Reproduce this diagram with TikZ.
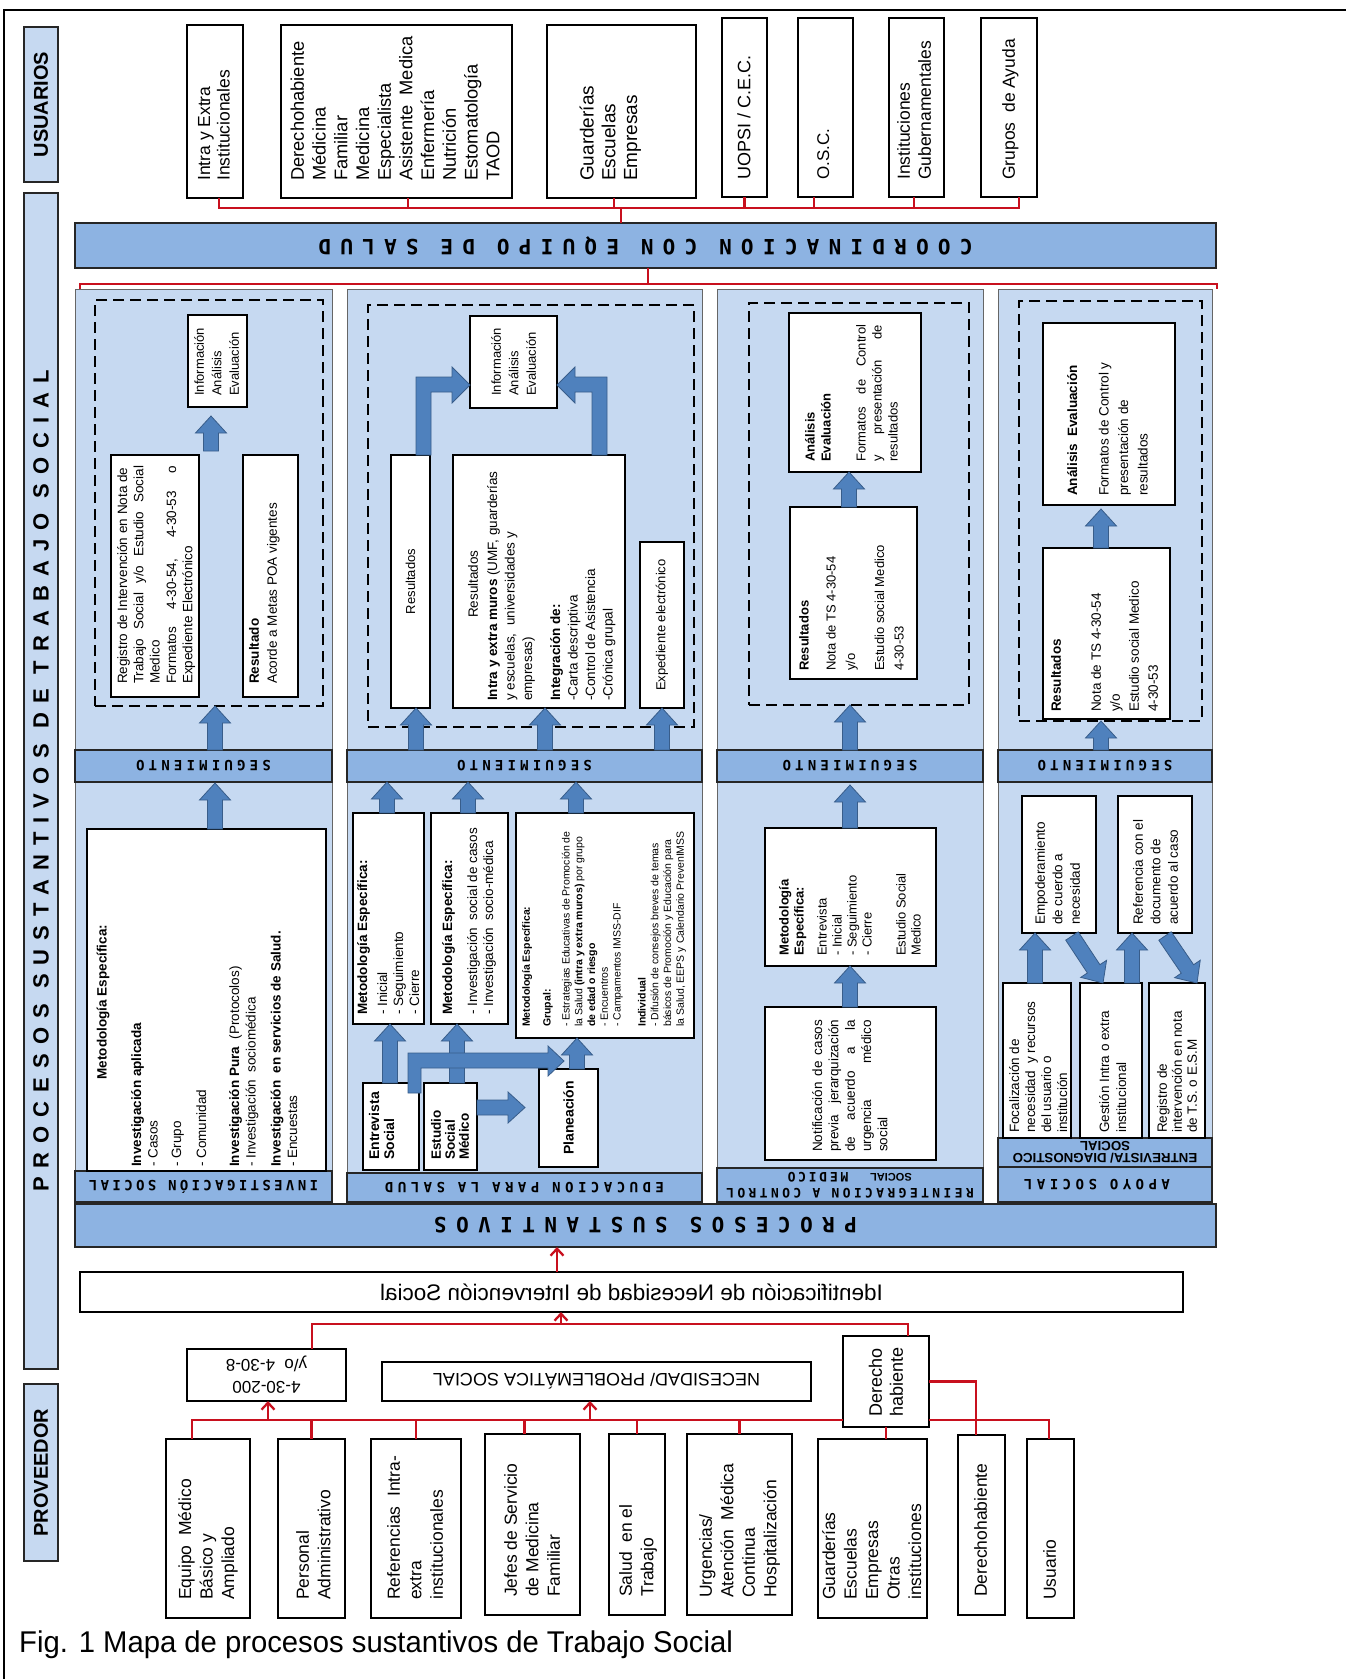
\documentclass[tikz,border=0pt]{standalone}
\usepackage{fontspec}
\setmainfont{Liberation Sans}
\newfontfamily\bandfont{DejaVu Sans Mono}
\usetikzlibrary{calc,arrows.meta}

\definecolor{panel}{RGB}{198,217,241}
\definecolor{band}{RGB}{141,179,226}
\definecolor{arrowfill}{RGB}{79,129,189}
\definecolor{arrowline}{RGB}{56,93,138}
\definecolor{linkred}{RGB}{200,16,30}

\newcommand\fz[2]{\fontsize{#1}{#2}\selectfont}
\newcommand\jl[2]{\makebox[#1pt][s]{#2}}
\newcommand\bandtxt[3]{{\fontsize{#1}{#1}\selectfont\bandfont\bfseries\addfontfeature{LetterSpace=#2}#3}}

\newcounter{tn}
% box from (x0,y0) to (x1,y1), y downwards
\newcommand\bx[6][wbox]{\node[#1, minimum width={#5-#3}, minimum height={#6-#4}] (#2) at ({(#3+#5)/2},{(#4+#6)/2}) {};}
% text read from bottom to top, anchored at its lower left corner
\newcommand\vt[4][]{\stepcounter{tn}\node[vtext,#1] (txt\arabic{tn}) at (#2,#3) {#4};}
% centred text read from bottom to top
\newcommand\ct[3][]{\stepcounter{tn}\node[ctext,#1] (txt\arabic{tn}) at (#2) {#3};}
% upside-down text
\newcommand\ft[3][]{\stepcounter{tn}\node[fliptext,#1] (txt\arabic{tn}) at (#2) {#3};}

% vertical block arrow at abscissa #1 from anchor #2 up to anchor #3 (gaps #4, #5)
\newcommand\vblock[5]{\path[barrow] let \p1=(#2), \p2=(#3) in
  (#1pt-7.5pt,\y1+#4pt) -- (#1pt-7.5pt,\y2-#5pt-17pt) -- (#1pt-15.5pt,\y2-#5pt-17pt) -- (#1pt,\y2-#5pt)
  -- (#1pt+15.5pt,\y2-#5pt-17pt) -- (#1pt+7.5pt,\y2-#5pt-17pt) -- (#1pt+7.5pt,\y1+#4pt) -- cycle;}
% block arrow in any direction from #1 to tip #2
\newcommand\blockarrow[2]{\path[barrow] let \p1=#1, \p2=#2,
  \n1={veclen(\x2-\x1,\y2-\y1)}, \n2={atan2(\y2-\y1,\x2-\x1)} in
  ($(\p1)+({\n2+90}:7.5pt)$) -- ($(\p1)+({\n2}:{\n1-17pt})+({\n2+90}:7.5pt)$)
  -- ($(\p1)+({\n2}:{\n1-17pt})+({\n2+90}:15.5pt)$) -- (\p2)
  -- ($(\p1)+({\n2}:{\n1-17pt})+({\n2-90}:15.5pt)$) -- ($(\p1)+({\n2}:{\n1-17pt})+({\n2-90}:7.5pt)$)
  -- ($(\p1)+({\n2-90}:7.5pt)$) -- cycle;}

\begin{document}
\begin{tikzpicture}[x=1pt,y=-1pt,
  wbox/.style={draw=black, fill=white, line width=1.3pt, inner sep=0pt, outer sep=0pt},
  panelbox/.style={draw=black!60, fill=panel, line width=1pt, inner sep=0pt, outer sep=0pt},
  bandbox/.style={draw=black!85, fill=band, line width=1.3pt, inner sep=0pt, outer sep=0pt},
  sidebar/.style={draw=black!85, fill=panel, line width=1.8pt, inner sep=0pt, outer sep=0pt},
  dashbox/.style={draw=black, dash pattern=on 11pt off 6pt, line width=2pt, inner sep=0pt, outer sep=0pt},
  vtext/.style={rotate=90, anchor=north west, align=left, inner sep=0pt},
  ctext/.style={rotate=90, align=center, inner sep=0pt},
  fliptext/.style={rotate=180, align=center, inner sep=0pt},
  barrow/.style={fill=arrowfill, draw=arrowline, line width=0.8pt, line join=miter},
  redline/.style={draw=linkred, line width=2.3pt},
  redarrow/.style={redline, -{Straight Barb[length=7pt,width=13pt]}},
]
\useasboundingbox (0,0) rectangle (1345,1679);
\fill[white] (0,0) rectangle (1345,1679);
\draw[line width=1.5pt] (4,1700) -- (4,10) -- (1360,10);

% ---------- side bars ----------
\bx[sidebar]{usu}{24}{27}{58}{182}
\bx[sidebar]{pst}{24}{193}{58}{1369}
\bx[sidebar]{prov}{24}{1384}{58}{1561}
\ct[font=\fz{20}{20}\bfseries]{usu.center}{USUARIOS}
\ct[font=\fz{22}{22}\bfseries\addfontfeature{LetterSpace=41}]{pst.center}{PROCESOS SUSTANTIVOS DE TRABAJO SOCIAL}
\ct[font=\fz{20}{20}\bfseries]{prov.center}{PROVEEDOR}

% ---------- users ----------
\bx{u1}{187}{25}{243}{198}
\bx{u2}{281}{25}{512}{198}
\bx{u3}{547}{25}{696}{198}
\bx{u4}{722}{18}{767}{197}
\bx{u5}{798}{18}{853}{197}
\bx{u6}{889}{18}{944}{197}
\bx{u7}{981}{18}{1037}{197}
\vt[font=\fz{17.5}{19.5}]{198}{181}{Intra y Extra\\Institucionales}
\vt[font=\fz{18.3}{21.7}]{290.5}{181}{Derechohabiente\\Médicina\\Familiar\\Medicina\\Especialista\\Asistente\ \ Medica\\Enfermería\\Nutrición\\Estomatología\\TAOD}
\vt[font=\fz{19}{21.7}]{579.5}{181}{Guarderías\\Escuelas\\Empresas}
\vt[font=\fz{18}{21}]{737}{180}{UOPSI / C.E.C.}
\vt[font=\fz{17}{21}]{817}{180}{O.S.C.}
\vt[font=\fz{17.5}{21}]{897}{180}{Instituciones\\Gubernamentales}
\vt[font=\fz{17.5}{21}]{1002}{180}{Grupos\ \ de Ayuda}

% ---------- coordination band ----------
\bx[bandbox]{coord}{75}{223}{1216}{268}
\ft{coord.center}{\bandtxt{21}{44}{COORDINACION CON EQUIPO DE SALUD}}

\coordinate (ubus) at (0,208);
\draw[redline] ([xshift=4pt]u1.south) |- ([xshift=10pt]u7.south |- ubus) -- ([xshift=10pt]u7.south);
\draw[redline] ([xshift=11.5pt]u2.south) -- ([xshift=11.5pt]u2.south |- ubus);
\draw[redline] ([xshift=-7.5pt]u3.south) -- ([xshift=-7.5pt]u3.south |- ubus);
\draw[redline] (u4.south) -- (u4.south |- ubus);
\draw[redline] ([xshift=-11.5pt]u5.south) -- ([xshift=-11.5pt]u5.south |- ubus);
\draw[redline] ([xshift=-2.5pt]u6.south) -- ([xshift=-2.5pt]u6.south |- ubus);
\draw[redline] ([xshift=-24.5pt]coord.north |- ubus) -- ([xshift=-24.5pt]coord.north);

% ---------- process columns ----------
\bx[panelbox]{col1}{75}{289}{332}{1202}
\bx[panelbox]{col2}{347}{289}{702}{1202}
\bx[panelbox]{col3}{717}{289}{983}{1202}
\bx[panelbox]{col4}{998}{289}{1212}{1202}

\coordinate (cbus) at (0,284);
\draw[redline] ([xshift=5pt]col1.north west) |- ([xshift=5pt]col4.north east |- cbus) -- ([xshift=5pt]col4.north east);
\draw[redline] ([xshift=2.5pt]coord.south) -- ([xshift=2.5pt]coord.south |- cbus);

\bx[bandbox]{seg1}{75}{750}{332}{782}
\bx[bandbox]{seg2}{347}{750}{702}{782}
\bx[bandbox]{seg3}{717}{750}{983}{782}
\bx[bandbox]{seg4}{998}{750}{1212}{782}
\foreach \s in {seg1,seg2,seg3,seg4} {\ft{\s.center}{\bandtxt{14}{30}{SEGUIMIENTO}}}
\bx[bandbox]{lab1}{75}{1171}{332}{1202}
\bx[bandbox]{lab2}{347}{1173}{702}{1202}
\bx[bandbox]{lab3}{717}{1168}{983}{1202}
\bx[bandbox]{lab4a}{998}{1138}{1212}{1167}
\bx[bandbox]{lab4b}{998}{1167}{1212}{1202}
\ft{lab1.center}{\bandtxt{14}{24}{INVESTIGACIÓN SOCIAL}}
\ft{lab2.center}{\bandtxt{14}{32}{EDUCACION PARA LA SALUD}}
\ft{850,1193}{\bandtxt{13}{26}{REINTEGRACION A CONTROL}}
\ft{818,1177}{\bandtxt{13}{21}{MEDICO}}
\ft[font=\fz{11}{11}\bfseries]{891,1177}{SOCIAL}
\ft[font=\fz{13.3}{12}\bfseries]{lab4a.center}{ENTREVISTA/ DIAGNOSTICO\\SOCIAL}
\ft{1097,1185}{\bandtxt{14}{32}{APOYO SOCIAL}}

\bx[bandbox]{proc}{75}{1204}{1216}{1247}
\ft{proc.center}{\bandtxt{21}{45}{PROCESOS SUSTANTIVOS}}

% ---------- column 1: investigacion social ----------
\bx[dashbox]{dash1}{95}{300}{323}{706}
\bx{info1}{188}{315}{247}{407}
\bx{reg1}{111}{455}{199}{697}
\bx{res1}{243}{455}{298}{697}
\bx{met1}{87}{829}{326}{1171}
\vblock{211}{reg1.north}{info1.south}{4}{9}
\vblock{215}{seg1.north}{dash1.south}{0}{0}
\vblock{215}{met1.north}{seg1.south}{0}{1}
\vt[font=\fz{13}{17.5}]{194}{396}{Información\\Análisis\\Evaluación}
\vt[font=\fz{13.5}{16.3}]{117}{684}{Registro de Intervención en Nota de\\\jl{218}{Trabajo\ \ Social\ \ y/o\ \ Estudio\ \ Social}\\Medico\\\jl{218}{Formatos 4-30-54, 4-30-53 o}\\Expediente Electrónico}
\vt[font=\fz{13.5}{18}]{249}{684}{\textbf{Resultado}\\Acorde a Metas POA vigentes}
\ct[font=\fz{13.5}{16}\bfseries]{103,1002}{Metodología Específica:}
\vt[font=\fz{13.5}{16.5}]{131}{1167}{\textbf{Investigación aplicada}\\- Casos\\[7pt]- Grupo\\[8.5pt]- Comunidad\\[16.5pt]\textbf{Investigación Pura}\ \ (Protocolos)\\- Investigación\ \ sociomédica\\[8.5pt]\textbf{Investigación\ \ en servicios de Salud.}\\- Encuestas}

% ---------- column 2: educacion para la salud ----------
\bx[dashbox]{dash2}{368}{305}{694}{727}
\bx{info2}{470}{316}{557}{408}
\bx{r2a}{391}{455}{430}{708}
\bx{r2b}{453}{455}{625}{708}
\bx{exp2}{640}{542}{684}{708}
\bx{m2a}{353}{813}{424}{1024}
\bx{m2b}{431}{813}{508}{1024}
\bx{m2c}{516}{813}{694}{1038}
\bx{ent2}{363}{1083}{419}{1170}
\bx{est2}{424}{1083}{477}{1170}
\bx{plan2}{539}{1069}{598}{1167}
\vblock{416}{seg2.north}{r2a.south}{0}{0}
\vblock{545}{seg2.north}{r2b.south}{0}{0}
\vblock{662}{seg2.north}{exp2.south}{0}{0}
\vblock{387}{m2a.north}{seg2.south}{0}{0}
\vblock{468}{m2b.north}{seg2.south}{0}{0}
\vblock{576}{m2c.north}{seg2.south}{0}{0}
\vblock{390}{ent2.north}{m2a.south}{0}{0}
\vblock{457}{est2.north}{m2b.south}{0}{0}
\vblock{577}{plan2.north}{m2c.south}{0}{0}
% elbow arrows into the information box
\path[barrow] (416,455) -- (416,377) -- (452,377) -- (452,367) -- (470,385) -- (452,403) -- (452,392) -- (431,392) -- (431,455) -- cycle;
\path[barrow] (607,455) -- (607,377) -- (575,377) -- (575,367) -- (557,385) -- (575,403) -- (575,392) -- (592,392) -- (592,455) -- cycle;
% elbow arrow from the interview towards the planning branch
\path[barrow] (408,1093) -- (408,1053) -- (548,1053) -- (548,1046) -- (564,1061) -- (548,1076) -- (548,1068) -- (421,1068) -- (421,1093) -- cycle;
\blockarrow{(477,1107.5)}{(525,1107.5)}
\vt[font=\fz{13}{17.5}]{491}{396}{Información\\Análisis\\Evaluación}
\ct[font=\fz{13}{15}]{r2a.center}{Resultados}
\ct[font=\fz{13.5}{15}]{473,584}{Resultados}
\vt[font=\fz{13.5}{17.5}]{487}{701}{\textbf{Intra y extra muros} (UMF, guarderías\\y escuelas,\ \ universidades y\\empresas)\\[10.5pt]\textbf{Integración de:}\\-Carta descriptiva\\-Control de Asistencia\\-Crónica grupal}
\ct[font=\fz{13}{15}]{exp2.center}{Expediente electrónico}
\vt[font=\fz{13.5}{16}]{357}{1015}{\textbf{Metodología Específica:}\\[4pt]- Inicial\\- Seguimiento\\- Cierre}
\vt[font=\fz{13.5}{16}]{442}{1015}{\textbf{Metodología Específica:}\\[9pt]- Investigación\ \ social de casos\\- Investigación\ \ socio-médica}
\vt[font=\fz{10.5}{12.8}]{522}{1027}{\textbf{Metodología Específica:}\\[8pt]\textbf{Grupal:}\\[6pt]- Estrategias Educativas de Promoción de\\la Salud \textbf{(intra y extra muros)} por grupo\\\textbf{de edad o riesgo}\\- Encuentros\\- Campamentos IMSS-DIF\\[12pt]\textbf{Individual}\\- Difusión de consejos breves de temas\\básicos de Promoción y Educación para\\la Salud, EEPS y Calendario PrevenIMSS}
\vt[font=\fz{14}{15}\bfseries]{368.7}{1160}{Entrevista\\Social}
\vt[font=\fz{13.5}{14}\bfseries]{431}{1160}{Estudio\\Social\\Médico}
\ct[font=\fz{14}{15}\bfseries]{plan2.center}{Planeación}

% ---------- column 3: reintegracion ----------
\bx[dashbox]{dash3}{749}{303}{969}{705}
\bx{ana3}{789}{313}{921}{472}
\bx{res3}{790}{507}{917}{679}
\bx{met3}{765}{828}{936}{966}
\bx{not3}{765}{1007}{936}{1160}
\vblock{849}{res3.north}{ana3.south}{0}{0}
\vblock{850}{seg3.north}{dash3.south}{0}{0}
\vblock{850}{met3.north}{seg3.south}{0}{3}
\vblock{850}{not3.north}{met3.south}{0}{0}
\vt[font=\fz{13}{16}]{805}{462}{\textbf{Análisis}\\\textbf{Evaluación}\\[19pt]\jl{137}{Formatos de Control}\\\jl{137}{y presentación de}\\resultados}
\vt[font=\fz{13}{19.5}]{799}{671}{\textbf{Resultados}\\[7.5pt]Nota de TS 4-30-54\\y/o\\[9.5pt]Estudio social Medico\\4-30-53}
\vt[font=\fz{13}{15}]{779}{956}{\textbf{Metodología}\\\textbf{Específica:}\\[8pt]Entrevista\\- Inicial\\- Seguimiento\\- Cierre\\[19pt]Estudio Social\\Medico}
\vt[font=\fz{13.5}{16.3}]{812}{1152}{\jl{132}{Notificación de casos}\\\jl{132}{previa jerarquización}\\\jl{132}{de acuerdo a la}\\\jl{132}{urgencia médico}\\social}

% ---------- column 4: apoyo social ----------
\bx[dashbox]{dash4}{1019}{301}{1202}{721}
\bx{ana4}{1043}{323}{1175}{505}
\bx{res4}{1043}{548}{1170}{719}
\bx{emp4}{1022}{796}{1096}{933}
\bx{ref4}{1118}{796}{1192}{933}
\bx{foc4}{1003}{983}{1071}{1138}
\bx{ges4}{1080}{983}{1142}{1138}
\bx{reg4}{1149}{983}{1205}{1138}
\vblock{1101}{seg4.north}{dash4.south}{0}{0}
\vblock{1101}{res4.north}{ana4.south}{0}{4}
\vblock{1035}{foc4.north}{emp4.south}{0}{0}
\vblock{1132}{ges4.north}{ref4.south}{0}{0}
\blockarrow{(1072,936)}{(1103,983)}
\blockarrow{(1165,936)}{(1197,983)}
\vt[font=\fz{13.5}{19.5}]{1067}{496}{\textbf{Análisis\ \ Evaluación}\\[12pt]Formatos de Control y\\presentación de\\resultados}
\vt[font=\fz{13.5}{19}]{1051}{712}{\textbf{Resultados}\\[21pt]Nota de TS 4-30-54\\y/o\\Estudio social Medico\\4-30-53}
\vt[font=\fz{13.5}{17.5}]{1035}{925}{Empoderamiento\\de cuerdo a\\necesidad}
\vt[font=\fz{13.5}{17.5}]{1133}{925}{Referencia con el\\documento de\\acuerdo al caso}
\vt[font=\fz{13.5}{16}]{1009}{1133}{Focalización de\\necesidad\ \ y recursos\\del usuario o\\institución}
\vt[font=\fz{13.5}{17}]{1099}{1133}{Gestión Intra o extra\\institucional}
\vt[font=\fz{13.5}{15}]{1157}{1133}{Registro de\\intervención en nota\\de T.S. o E.S.M}

% ---------- identification and providers ----------
\bx{idf}{80}{1272}{1183}{1312}
\node[inner sep=0pt, font=\fz{22.5}{22.5}] (idftext) at (idf.center) {\reflectbox{Identificación de Necesidad de Intervención Social}};
\bx{four}{187}{1349}{346}{1401}
\ft[font=\fz{17}{22}]{four.center}{4-30-200\\y/o\ \ 4-30-8}
\bx{nec}{382}{1362}{811}{1401}
\ft[font=\fz{18}{18}]{nec.center}{NECESIDAD/ PROBLEMÁTICA SOCIAL}
\bx{dh}{843}{1336}{929}{1427}
\ct[font=\fz{18}{21}, align=left]{dh.center}{Derecho\\habiente}

\bx{p1}{166}{1439}{250}{1618}
\bx{p2}{278}{1439}{345}{1618}
\bx{p3}{371}{1439}{461}{1618}
\bx{p4}{485}{1434}{580}{1615}
\bx{p5}{609}{1434}{665}{1615}
\bx{p6}{687}{1434}{792}{1615}
\bx{p7}{818}{1439}{927}{1618}
\bx{p8}{958}{1435}{1005}{1615}
\bx{p9}{1027}{1439}{1074}{1618}
\vt[font=\fz{17.5}{21.5}]{178}{1600}{Equipo\ \ Médico\\Básico y\\Ampliado}
\vt[font=\fz{17.5}{21.5}]{296}{1600}{Personal\\Administrativo}
\vt[font=\fz{17.5}{21.5}]{387}{1600}{Referencias\ \ Intra-\\extra\\institucionales}
\vt[font=\fz{17.5}{21.5}]{504}{1597}{Jefes de Servicio\\de Medicina\\Familiar}
\vt[font=\fz{17.5}{21.5}]{619}{1597}{Salud\ \ en el\\Trabajo}
\vt[font=\fz{17.5}{21.5}]{699}{1598}{Urgencias/\\Atención\ \ Médica\\Continua\\Hospitalización}
\vt[font=\fz{17.5}{21.5}]{822}{1600}{Guarderías\\Escuelas\\Empresas\\Otras\\instituciones}
\vt[font=\fz{17.5}{21.5}]{974}{1597}{Derechohabiente}
\vt[font=\fz{17.5}{21.5}]{1043}{1600}{Usuario}

% red links of the lower part
\coordinate (bus) at (0,1420);
\coordinate (bus2) at (0,1324);
\draw[redline] ([xshift=-16pt]p1.north) |- (dh.west |- bus);
\draw[redline] (dh.east |- bus) -| ([xshift=-1.5pt]p9.north);
\foreach \n in {p2,p3,p5,p6} {\draw[redline] (\n.north) -- (\n.north |- bus);}
\draw[redline] ([xshift=-8pt]p4.north) -- ([xshift=-8pt]p4.north |- bus);
\draw[redline] (dh.south) -- (dh.south |- p7.north);
\draw[redline] (dh.east) -| ([xshift=-5.5pt]p8.north);
\draw[redarrow] ([xshift=1.5pt]four.south |- bus) -- ([xshift=1.5pt]four.south);
\draw[redarrow] ([xshift=-6.5pt]nec.south |- bus) -- ([xshift=-6.5pt]nec.south);
\draw[redline] ([xshift=45.5pt]four.north) |- ([xshift=22pt]dh.north |- bus2) -- ([xshift=22pt]dh.north);
\draw[redarrow] ([xshift=-70.5pt]idf.south |- bus2) -- ([xshift=-70.5pt]idf.south);
\draw[redarrow] ([xshift=-74.5pt]idf.north) -- ([xshift=-74.5pt]idf.north |- proc.south);

\node[anchor=west, inner sep=0pt, font=\fz{30}{30}] (cap) at (19,1645) {\scalebox{0.975}[1]{Fig. 1 Mapa de procesos sustantivos de Trabajo Social}};
\end{tikzpicture}
\end{document}
